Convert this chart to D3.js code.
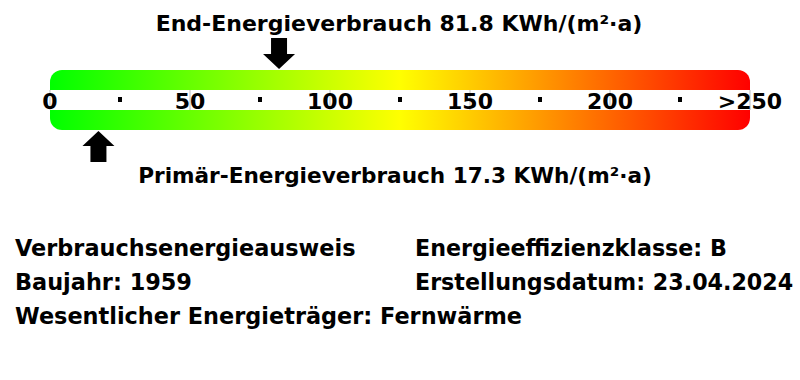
<!DOCTYPE html>
<html>
<head>
<meta charset="utf-8">
<script src="https://cdn.jsdelivr.net/npm/d3@7"></script>
<style>
    body { margin: 0; background: #fff; }
    text { font-family: "DejaVu Sans", sans-serif; font-weight: bold; }
</style>
</head>
<body>
<svg id="chart" width="800" height="380"></svg>
<script>
// values
var majorTicks = [0, 50, 100, 150, 200, 250];
var majorLabels = ['0', '50', '100', '150', '200', '>250'];
var minorTicks = [25, 75, 125, 175, 225];
var endValue = 81.8;
var primaryValue = 17.3;
var endLabel = 'End-Energieverbrauch 81.8 KWh/(m²·a)';
var primaryLabel = 'Primär-Energieverbrauch 17.3 KWh/(m²·a)';
var infoLeft = ['Verbrauchsenergieausweis', 'Baujahr: 1959', 'Wesentlicher Energieträger: Fernwärme'];
var infoRight = ['Energieeffizienzklasse: B', 'Erstellungsdatum: 23.04.2024'];
var gradientStops = ['#00ff00', '#ffff00', '#ff0000'];

var svg = d3.select('#chart');

var x = d3.scaleLinear()
    .domain([0, 250])
    .range([50, 750]);

var barTop = 70, barHeight = 60, stripeTop = 90, stripeHeight = 20;

// colour gradient
var grad = svg.append('defs')
    .append('linearGradient')
    .attr('id', 'scaleGrad')
    .attr('x1', '0%').attr('x2', '100%')
    .attr('y1', '0%').attr('y2', '0%');

grad.selectAll('stop')
    .data(gradientStops)
    .enter()
    .append('stop')
    .attr('offset', function (d, i) { return (i / (gradientStops.length - 1) * 100) + '%'; })
    .attr('stop-color', function (d) { return d; });

svg.append('rect')
    .attr('x', x(0))
    .attr('y', barTop)
    .attr('width', x(250) - x(0))
    .attr('height', barHeight)
    .attr('rx', 12)
    .attr('ry', 12)
    .style('fill', 'url(#scaleGrad)');

// white stripe for the scale labels
svg.append('rect')
    .attr('x', x(0))
    .attr('y', stripeTop)
    .attr('width', x(250) - x(0))
    .attr('height', stripeHeight)
    .style('fill', '#fff');

// major tick lines
svg.selectAll('.tickline')
    .data(majorTicks)
    .enter()
    .append('line')
    .attr('class', 'tickline')
    .attr('x1', function (d) { return x(d); })
    .attr('x2', function (d) { return x(d); })
    .attr('y1', stripeTop)
    .attr('y2', stripeTop + stripeHeight)
    .attr('stroke', '#bbb')
    .attr('stroke-width', 1);

// minor tick dots
svg.selectAll('.minor')
    .data(minorTicks)
    .enter()
    .append('rect')
    .attr('class', 'minor')
    .attr('x', function (d) { return x(d) - 2; })
    .attr('y', 97)
    .attr('width', 4)
    .attr('height', 5)
    .style('fill', '#000');

// tick labels
svg.selectAll('.ticklabel')
    .data(majorTicks)
    .enter()
    .append('text')
    .attr('class', 'ticklabel')
    .attr('x', function (d) { return x(d); })
    .attr('y', 109)
    .attr('text-anchor', 'middle')
    .style('font-size', '22px')
    .text(function (d, i) { return majorLabels[i]; });

// arrows
function arrowPath(cx, tipY, dir) {
    // dir = 1 points down, -1 points up
    var headLen = 15, shaftLen = 16, headHalf = 16, shaftHalf = 8;
    var baseY = tipY - dir * headLen;
    var endY = baseY - dir * shaftLen;
    return ['M', cx, tipY,
        'L', cx - headHalf, baseY,
        'L', cx - shaftHalf, baseY,
        'L', cx - shaftHalf, endY,
        'L', cx + shaftHalf, endY,
        'L', cx + shaftHalf, baseY,
        'L', cx + headHalf, baseY, 'Z'].join(' ');
}

svg.append('path')
    .attr('d', arrowPath(x(endValue), barTop - 1, 1))
    .style('fill', '#000');

svg.append('path')
    .attr('d', arrowPath(x(primaryValue), barTop + barHeight + 1, -1))
    .style('fill', '#000');

svg.append('text')
    .attr('x', 399)
    .attr('y', 31)
    .attr('text-anchor', 'middle')
    .style('font-size', '22px')
    .text(endLabel);

svg.append('text')
    .attr('x', 395)
    .attr('y', 183)
    .attr('text-anchor', 'middle')
    .style('font-size', '21.6px')
    .text(primaryLabel);

// info block
svg.selectAll('.infoL')
    .data(infoLeft)
    .enter()
    .append('text')
    .attr('class', 'infoL')
    .attr('x', 15)
    .attr('y', function (d, i) { return 256 + i * 34; })
    .style('font-size', '22.4px')
    .text(function (d) { return d; });

svg.selectAll('.infoR')
    .data(infoRight)
    .enter()
    .append('text')
    .attr('class', 'infoR')
    .attr('x', 415)
    .attr('y', function (d, i) { return 256 + i * 34; })
    .style('font-size', '22.2px')
    .text(function (d) { return d; });
</script>
</body>
</html>
